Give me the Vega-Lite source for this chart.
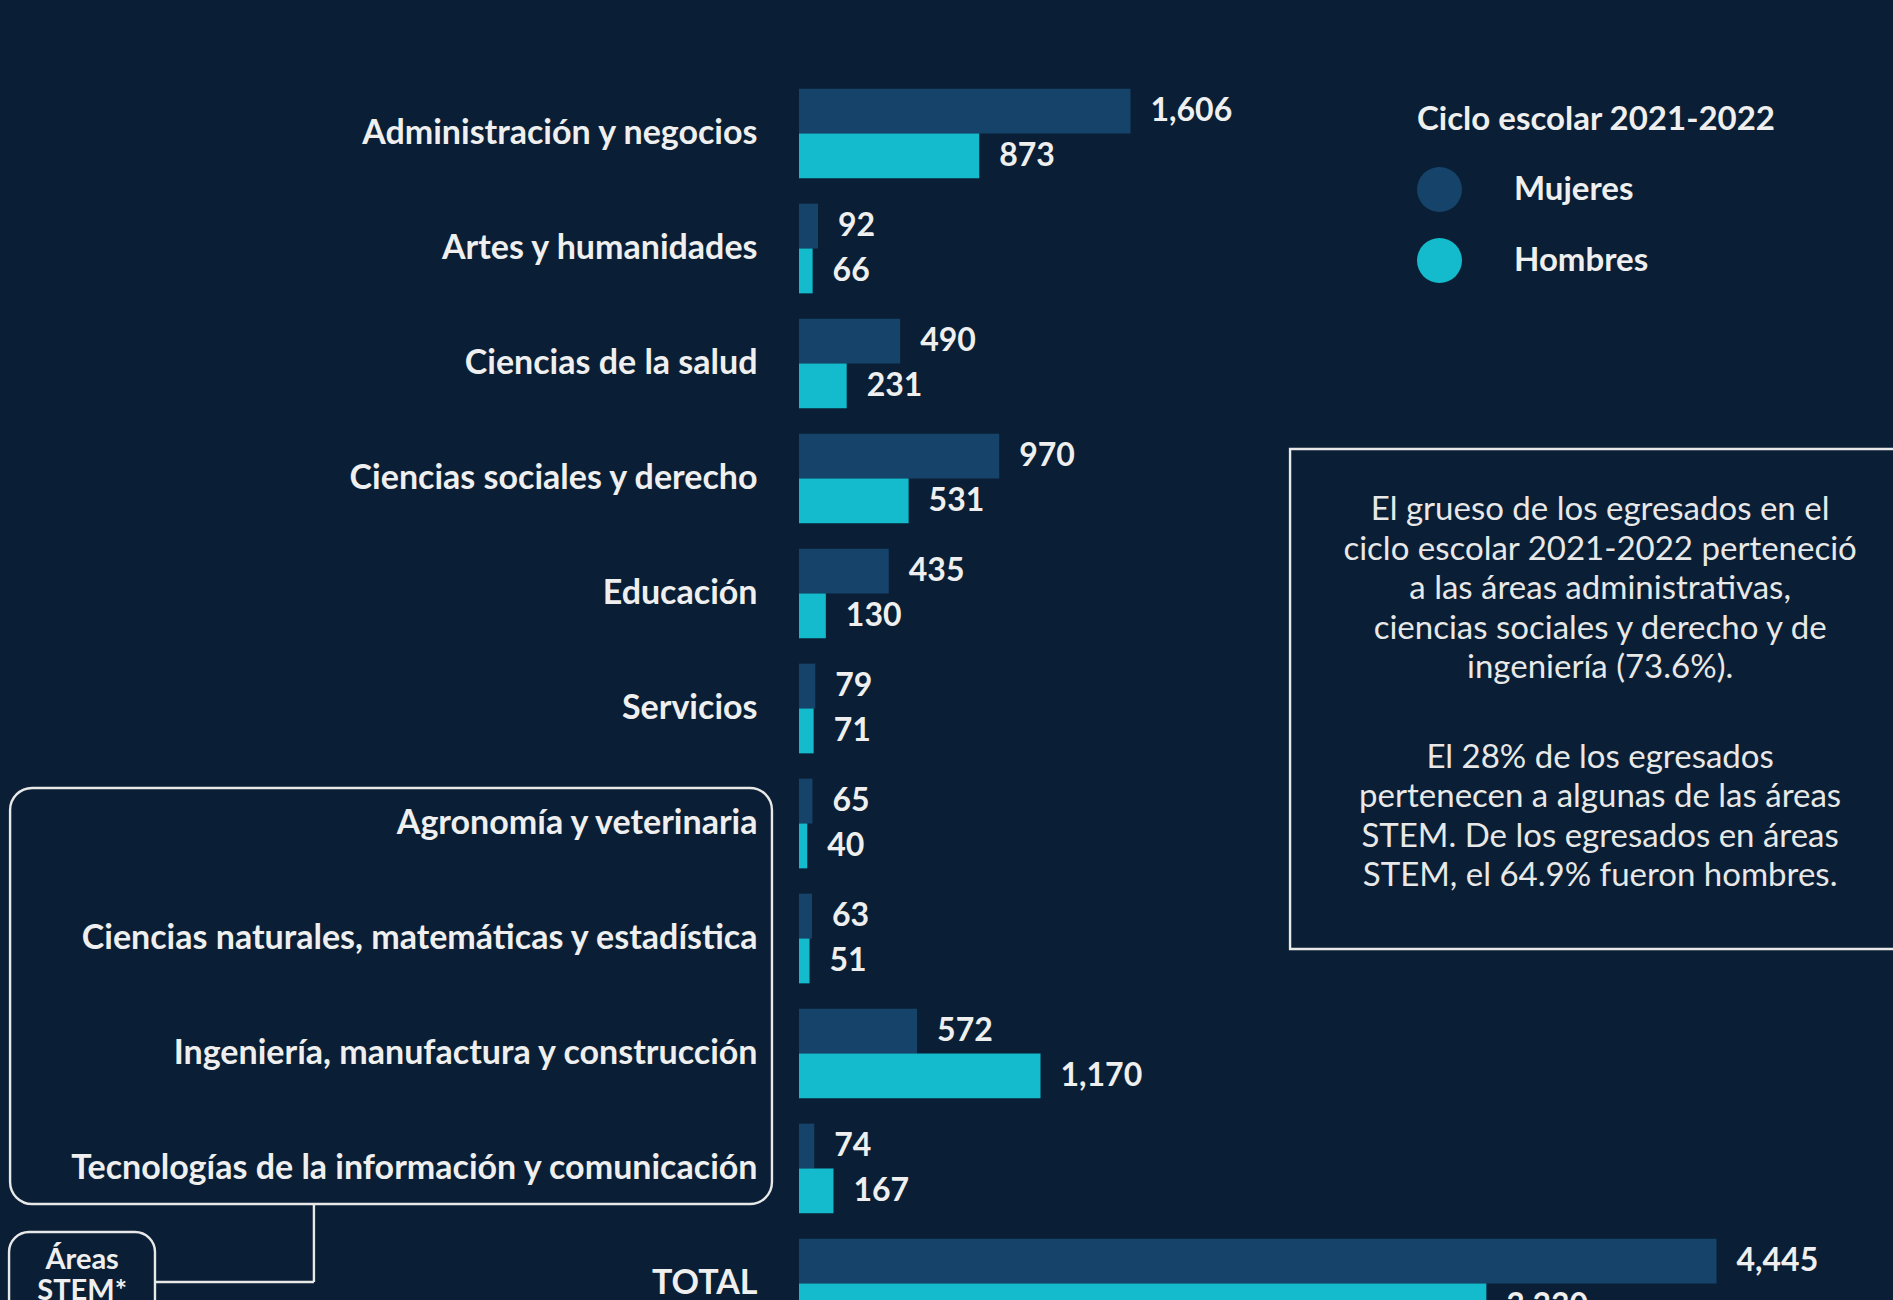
{
  "$schema": "https://vega.github.io/schema/vega-lite/v6.json",
  "width": 1094,
  "height": 1300,
  "autosize": {"type": "none"},
  "padding": {"left": 799, "top": 0, "right": 0, "bottom": 0},
  "background": "#0a1f35",
  "config": {
    "view": {"stroke": null},
    "font": "Lato",
    "axis": {"labelFont": "Lato", "titleFont": "Lato"},
    "legend": {"labelFont": "Lato", "titleFont": "Lato", "padding": 0}
  },
  "datasets": {
    "egresados": [
      {"area": "Administración y negocios", "sexo": "Mujeres", "valor": 1606},
      {"area": "Administración y negocios", "sexo": "Hombres", "valor": 873},
      {"area": "Artes y humanidades", "sexo": "Mujeres", "valor": 92},
      {"area": "Artes y humanidades", "sexo": "Hombres", "valor": 66},
      {"area": "Ciencias de la salud", "sexo": "Mujeres", "valor": 490},
      {"area": "Ciencias de la salud", "sexo": "Hombres", "valor": 231},
      {"area": "Ciencias sociales y derecho", "sexo": "Mujeres", "valor": 970},
      {"area": "Ciencias sociales y derecho", "sexo": "Hombres", "valor": 531},
      {"area": "Educación", "sexo": "Mujeres", "valor": 435},
      {"area": "Educación", "sexo": "Hombres", "valor": 130},
      {"area": "Servicios", "sexo": "Mujeres", "valor": 79},
      {"area": "Servicios", "sexo": "Hombres", "valor": 71},
      {"area": "Agronomía y veterinaria", "sexo": "Mujeres", "valor": 65},
      {"area": "Agronomía y veterinaria", "sexo": "Hombres", "valor": 40},
      {"area": "Ciencias naturales, matemáticas y estadística", "sexo": "Mujeres", "valor": 63},
      {"area": "Ciencias naturales, matemáticas y estadística", "sexo": "Hombres", "valor": 51},
      {"area": "Ingeniería, manufactura y construcción", "sexo": "Mujeres", "valor": 572},
      {"area": "Ingeniería, manufactura y construcción", "sexo": "Hombres", "valor": 1170},
      {"area": "Tecnologías de la información y comunicación", "sexo": "Mujeres", "valor": 74},
      {"area": "Tecnologías de la información y comunicación", "sexo": "Hombres", "valor": 167},
      {"area": "TOTAL", "sexo": "Mujeres", "valor": 4445},
      {"area": "TOTAL", "sexo": "Hombres", "valor": 3330}
    ]
  },
  "layer": [
    {
      "data": {"name": "egresados"},
      "mark": {"type": "bar", "cornerRadius": 0},
      "encoding": {
        "y": {
          "field": "area", "type": "nominal",
          "scale": {
            "domain": ["Administración y negocios", "Artes y humanidades", "Ciencias de la salud", "Ciencias sociales y derecho", "Educación", "Servicios", "Agronomía y veterinaria", "Ciencias naturales, matemáticas y estadística", "Ingeniería, manufactura y construcción", "Tecnologías de la información y comunicación", "TOTAL"],
            "range": [76, 1341], "paddingInner": 0.22, "paddingOuter": 0.11
          },
          "axis": {
            "title": null, "ticks": false, "domain": false, "grid": false,
            "labelFontSize": 34, "labelFontWeight": "bold", "labelColor": "#efefef",
            "labelPadding": 42, "labelLimit": 900, "minExtent": 799, "maxExtent": 799
          }
        },
        "yOffset": {"field": "sexo", "type": "nominal", "scale": {"domain": ["Mujeres", "Hombres"], "paddingInner": 0, "paddingOuter": 0}},
        "x": {"field": "valor", "type": "quantitative", "scale": {"domain": [0, 5300], "nice": false}, "axis": null},
        "color": {
          "field": "sexo", "type": "nominal",
          "scale": {"domain": ["Mujeres", "Hombres"], "range": ["#16436a", "#13bbcd"]},
          "legend": {
            "orient": "none", "legendX": 618, "legendY": 104,
            "title": "Ciclo escolar 2021-2022",
            "titleFontSize": 33, "titleFontWeight": "bold", "titleColor": "#efefef", "titlePadding": 30, "titleLimit": 700,
            "symbolType": "circle", "symbolSize": 2025, "symbolStrokeWidth": 0, "symbolOpacity": 1,
            "labelFontSize": 33, "labelFontWeight": "bold", "labelColor": "#efefef", "labelOffset": 52,
            "rowPadding": 26
          }
        }
      }
    },
    {
      "data": {"name": "egresados"},
      "mark": {"type": "text", "align": "left", "baseline": "middle", "dx": 20, "fontSize": 32, "fontWeight": "bold", "fill": "#efefef"},
      "encoding": {
        "y": {
          "field": "area", "type": "nominal",
          "scale": {
            "domain": ["Administración y negocios", "Artes y humanidades", "Ciencias de la salud", "Ciencias sociales y derecho", "Educación", "Servicios", "Agronomía y veterinaria", "Ciencias naturales, matemáticas y estadística", "Ingeniería, manufactura y construcción", "Tecnologías de la información y comunicación", "TOTAL"],
            "range": [76, 1341], "paddingInner": 0.22, "paddingOuter": 0.11
          },
          "axis": null
        },
        "yOffset": {"field": "sexo", "type": "nominal", "scale": {"domain": ["Mujeres", "Hombres"], "paddingInner": 0, "paddingOuter": 0}},
        "x": {"field": "valor", "type": "quantitative"},
        "text": {"field": "valor", "type": "quantitative", "format": ","}
      }
    },
    {
      "data": {"values": [{}]},
      "mark": {"type": "rect", "fill": "transparent", "stroke": "#e8e8e8", "strokeWidth": 2.4},
      "encoding": {
        "x": {"datum": 2379, "type": "quantitative"},
        "x2": {"datum": 5500},
        "y": {"datum": 2.743, "type": "quantitative", "scale": {"domain": [-0.5, 10.5], "range": [76, 1341], "nice": false, "zero": false}, "axis": null},
        "y2": {"datum": 7.091}
      }
    },
    {
      "data": {"values": [{}]},
      "mark": {"type": "text", "align": "center", "baseline": "middle", "fontSize": 33, "lineHeight": 39.5, "fill": "#e8e8e8",
        "text": ["El grueso de los egresados en el", "ciclo escolar 2021-2022 perteneció", "a las áreas administrativas,", "ciencias sociales y derecho y de", "ingeniería (73.6%)."]},
      "encoding": {
        "x": {"datum": 3881, "type": "quantitative"},
        "y": {"datum": 3.274, "type": "quantitative", "scale": {"domain": [-0.5, 10.5], "range": [76, 1341], "nice": false, "zero": false}, "axis": null}
      }
    },
    {
      "data": {"values": [{}]},
      "mark": {"type": "text", "align": "center", "baseline": "middle", "fontSize": 33, "lineHeight": 39.5, "fill": "#e8e8e8",
        "text": ["El 28% de los egresados", "pertenecen a algunas de las áreas", "STEM. De los egresados en áreas", "STEM, el 64.9% fueron hombres."]},
      "encoding": {
        "x": {"datum": 3881, "type": "quantitative"},
        "y": {"datum": 5.43, "type": "quantitative", "scale": {"domain": [-0.5, 10.5], "range": [76, 1341], "nice": false, "zero": false}, "axis": null}
      }
    },
    {
      "data": {"values": [{}]},
      "mark": {"type": "rect", "fill": "transparent", "stroke": "#e8e8e8", "strokeWidth": 2.4, "cornerRadius": 22},
      "encoding": {
        "x": {"datum": -3822, "type": "quantitative"},
        "x2": {"datum": -131},
        "y": {"datum": 5.691, "type": "quantitative", "scale": {"domain": [-0.5, 10.5], "range": [76, 1341], "nice": false, "zero": false}, "axis": null},
        "y2": {"datum": 9.309}
      }
    },
    {
      "data": {"values": [{}]},
      "mark": {"type": "rect", "fill": "transparent", "stroke": "#e8e8e8", "strokeWidth": 2.4, "cornerRadius": 20},
      "encoding": {
        "x": {"datum": -3827, "type": "quantitative"},
        "x2": {"datum": -3120},
        "y": {"datum": 9.552, "type": "quantitative", "scale": {"domain": [-0.5, 10.5], "range": [76, 1341], "nice": false, "zero": false}, "axis": null},
        "y2": {"datum": 10.7}
      }
    },
    {
      "data": {"values": [{}]},
      "mark": {"type": "rule", "stroke": "#e8e8e8", "strokeWidth": 2.4},
      "encoding": {
        "x": {"datum": -2350, "type": "quantitative"},
        "y": {"datum": 9.309, "type": "quantitative", "scale": {"domain": [-0.5, 10.5], "range": [76, 1341], "nice": false, "zero": false}, "axis": null},
        "y2": {"datum": 9.987}
      }
    },
    {
      "data": {"values": [{}]},
      "mark": {"type": "rule", "stroke": "#e8e8e8", "strokeWidth": 2.4},
      "encoding": {
        "x": {"datum": -3120, "type": "quantitative"},
        "x2": {"datum": -2350},
        "y": {"datum": 9.987, "type": "quantitative", "scale": {"domain": [-0.5, 10.5], "range": [76, 1341], "nice": false, "zero": false}, "axis": null}
      }
    },
    {
      "data": {"values": [{}]},
      "mark": {"type": "text", "align": "center", "baseline": "middle", "fontSize": 29, "fontWeight": "bold", "lineHeight": 31, "fill": "#efefef",
        "text": ["Áreas", "STEM*"]},
      "encoding": {
        "x": {"datum": -3473, "type": "quantitative"},
        "y": {"datum": 9.796, "type": "quantitative", "scale": {"domain": [-0.5, 10.5], "range": [76, 1341], "nice": false, "zero": false}, "axis": null}
      }
    }
  ],
  "resolve": {"scale": {"y": "independent"}}
}
